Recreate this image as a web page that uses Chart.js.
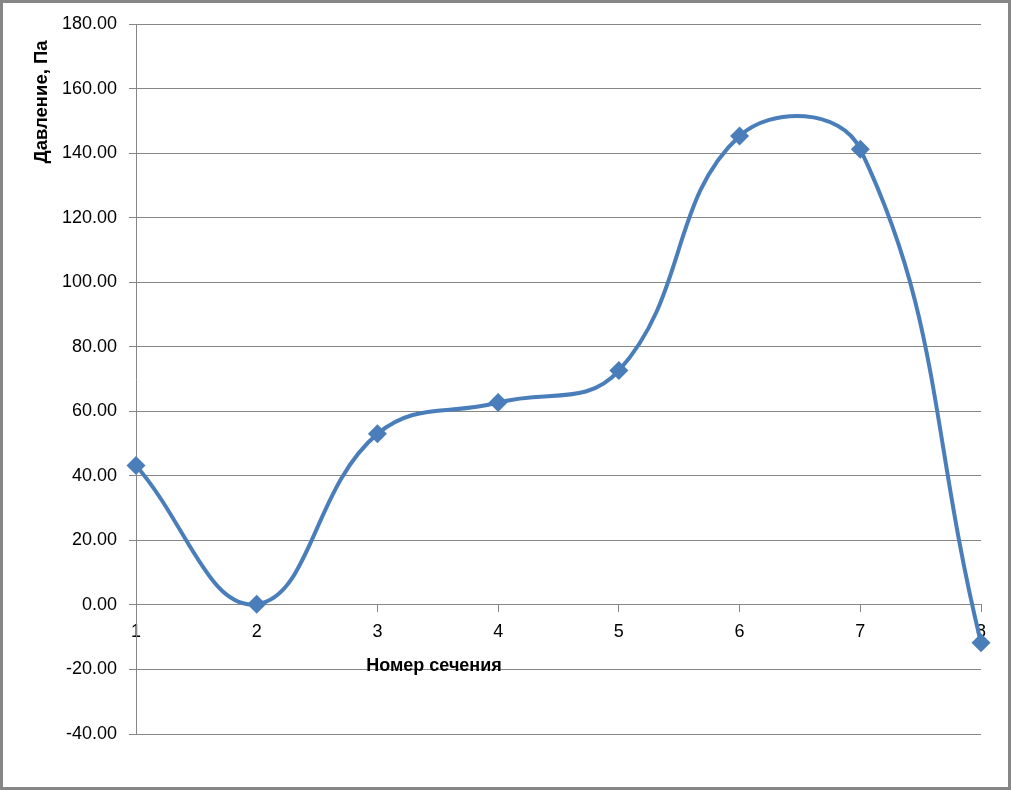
<!DOCTYPE html>
<html>
<head>
<meta charset="utf-8">
<script src="https://cdn.jsdelivr.net/npm/chart.js@4"></script>
<style>
    html, body { margin: 0; padding: 0; background: #fff; }
    #wrap { position: relative; width: 1011px; height: 790px; }
    #frame { position: absolute; left: 0; top: 0; width: 1011px; height: 790px; box-sizing: border-box; border: 3px solid #868686; pointer-events: none; }
    canvas { display: block; }
</style>
</head>
<body>
<div id="wrap">
    <canvas id="chart" width="1011" height="790"></canvas>
    <div id="frame"></div>
</div>
<script>
// Data
const sectionNumbers = [1, 2, 3, 4, 5, 6, 7, 8];
const pressureValues = [43.2, 0.2, 53.0, 62.7, 72.6, 145.3, 141.2, -11.7];

// Axis settings
const yMin = -40;
const yMax = 180;
const yStep = 20;
const xTitle = "Номер сечения";
const yTitle = "Давление, Па";

const lineColor = "#4a7ebb";
const gridColor = "#868686";
const fontFamily = "'Liberation Sans', Arial, sans-serif";

// Build scatter points from the arrays
const points = sectionNumbers.map((x, i) => ({ x: x, y: pressureValues[i] }));

// Axis titles placed like the Excel original
const axisTitles = {
    id: "axisTitles",
    afterDraw(chart) {
        const ctx = chart.ctx;
        ctx.save();
        ctx.fillStyle = "#000";
        ctx.textAlign = "center";
        ctx.textBaseline = "alphabetic";
        ctx.font = "bold 18px " + fontFamily;
        ctx.fillText(xTitle, 434, 671);
        ctx.font = "bold 18.5px " + fontFamily;
        ctx.translate(47, 102);
        ctx.rotate(-Math.PI / 2);
        ctx.fillText(yTitle, 0, 0);
        ctx.restore();
    }
};

new Chart(document.getElementById("chart"), {
    type: "line",
    data: {
        datasets: [{
            data: points,
            borderColor: lineColor,
            backgroundColor: lineColor,
            borderWidth: 4,
            tension: 0.42,
            pointStyle: "rectRot",
            pointRadius: 9.5,
            pointBorderWidth: 0,
            pointBackgroundColor: lineColor,
            clip: false,
        }],
    },
    options: {
        responsive: false,
        animation: false,
        layout: { padding: { left: 0, top: 24, right: 30, bottom: 56 } },
        plugins: {
            legend: { display: false },
            tooltip: { enabled: false },
        },
        scales: {
            x: {
                type: "linear",
                position: { y: 0 },
                min: 1,
                max: 8,
                ticks: {
                    stepSize: 1,
                    color: "#000",
                    padding: 9,
                    font: { family: fontFamily, size: 18 },
                },
                grid: { drawOnChartArea: false, drawTicks: true, tickLength: 7, color: gridColor },
                border: { display: true, color: gridColor },
            },
            y: {
                type: "linear",
                min: yMin,
                max: yMax,
                ticks: {
                    stepSize: yStep,
                    color: "#000",
                    padding: 12,
                    font: { family: fontFamily, size: 18 },
                    callback: (v) => v.toFixed(2),
                },
                grid: { color: gridColor, tickLength: 7, drawTicks: true },
                border: { display: true, color: gridColor },
                afterFit(scale) { scale.width = 136; },
            },
        },
    },
    plugins: [axisTitles],
});
</script>
</body>
</html>
